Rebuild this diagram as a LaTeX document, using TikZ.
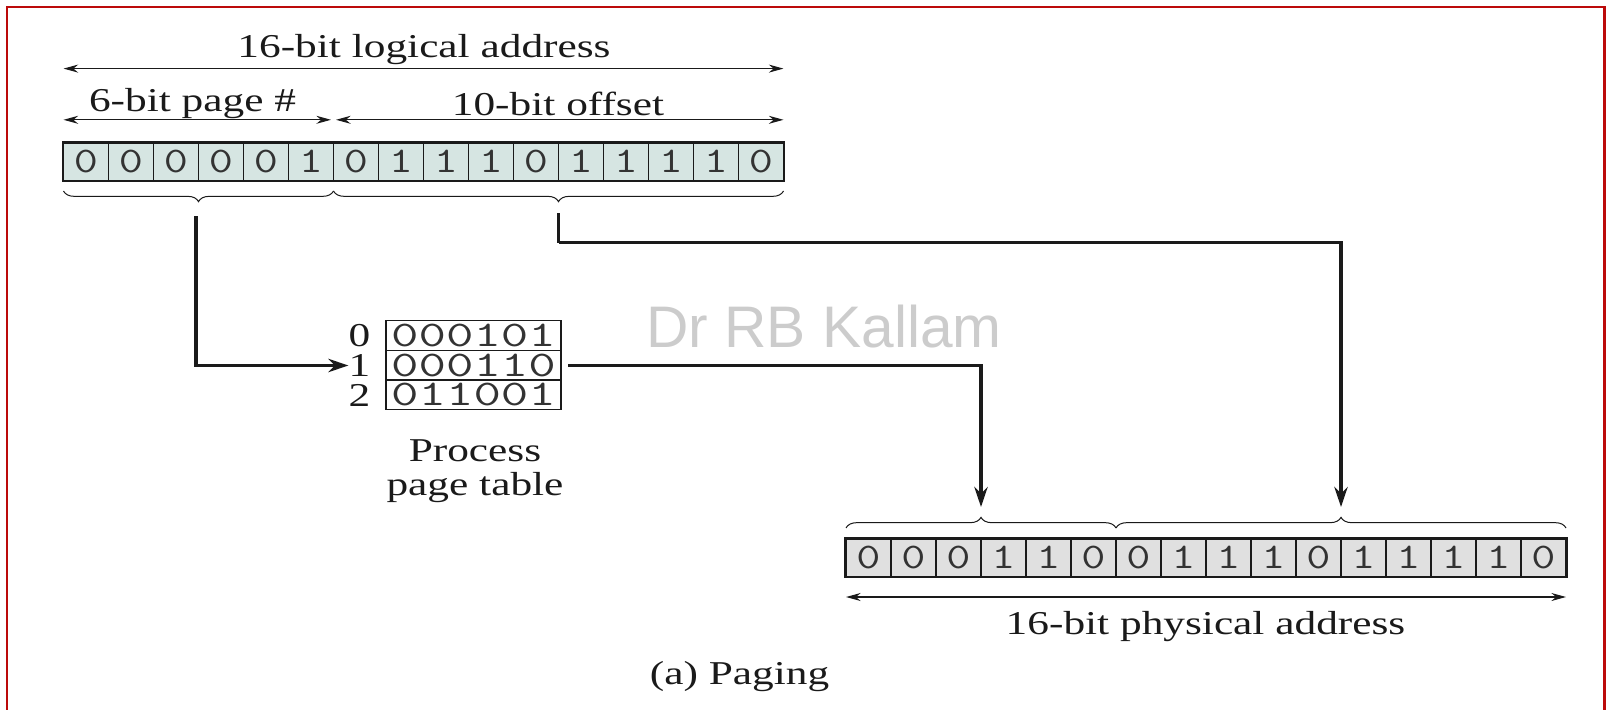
\documentclass[tikz,border=0pt]{standalone}
\usepackage{fontspec}
\setmainfont{Liberation Serif}
\newfontfamily\wmfont{Liberation Sans}
\usetikzlibrary{decorations.pathreplacing,arrows.meta}
\definecolor{frameRed}{HTML}{BC0A0A}
\definecolor{cellA}{HTML}{D6E5E2}
\definecolor{cellB}{HTML}{E0E0E0}
\definecolor{inkC}{HTML}{1A1A1A}
\newcommand{\wx}[1]{\scalebox{1.3}[1]{#1}}
\newcommand{\wm}[1]{\scalebox{1.3}[1]{#1}}
\newcommand{\wt}[1]{\scalebox{1.48}[1]{#1}}
\begin{document}
\begin{tikzpicture}[x=0.75pt,y=-0.75pt,
  lbl/.style={font=\fontsize{25}{28}\selectfont, inner sep=0pt, text=inkC},
  bitbox/.style={draw=inkC, line width=1pt, minimum width=33.75pt, minimum height=28pt, inner sep=0pt, font=\ttfamily\fontsize{27}{28}\selectfont, text=black!80},
  bitA/.style={bitbox, fill=cellA},
  bitB/.style={bitbox, fill=cellB},
  ptxt/.style={inner sep=0pt, font=\ttfamily\fontsize{27}{28}\selectfont, text=black!80},
  dimline/.style={draw=inkC, line width=0.9pt, {Stealth[length=11pt,width=6pt]}-{Stealth[length=11pt,width=6pt]}},
  bracedec/.style={draw=inkC, line width=0.75pt, decorate, decoration={brace, amplitude=8pt}},
  conn/.style={draw=inkC, line width=2.5pt, -{Stealth[length=15pt,width=10pt]}},
  connline/.style={draw=inkC, line width=2.5pt}
]
\useasboundingbox (0,0) rectangle (1606,710);
% frame
\draw[frameRed, line width=2pt] (7,710) -- (7,7) -- (1604.5,7) -- (1604.5,710);

% logical address register
\foreach \b [count=\i] in {0,0,0,0,0,1,0,1,1,1,0,1,1,1,1,0}
  \node[bitA] (a\i) at ({86+45*(\i-1)},161.5) {\wm{\b}};
\draw[inkC, line width=1.3pt] (a1.north west) rectangle (a16.south east);

% dimension lines (top)
\coordinate (dTL) at (63.5,68.6);
\coordinate (dTR) at (783.5,68.6);
\draw[dimline] (dTL) -- (dTR);
\node[lbl] (tLog) at (424,50) {\wx{16-bit logical address}};
\coordinate (dPL) at (63.5,119.8);
\coordinate (dPR) at (331,119.8);
\coordinate (dOL) at (336,119.8);
\coordinate (dOR) at (783.5,119.8);
\draw[dimline] (dPL) -- (dPR);
\draw[dimline] (dOL) -- (dOR);
\node[lbl] (tPage) at (192.5,104) {\wx{6-bit page \#}};
\node[lbl] (tOff) at (558,104) {\wx{10-bit offset}};

% braces under logical register
\draw[bracedec, decoration={mirror}] (63.5,191) -- (333.5,191);
\draw[bracedec, decoration={mirror}] (333.5,191) -- (783.5,191);
\coordinate (bt1) at (196,216);
\coordinate (bt2) at (558.5,213);

% page table
\draw[inkC, line width=1pt] (386,320.6) rectangle (561,409.7);
\draw[inkC, line width=1pt] (386,350.3) -- (561,350.3);
\draw[inkC, line width=1pt] (386,380) -- (561,380);
\coordinate (ptR) at (568,365.2);
\node[ptxt] (pt0) at (473.5,335.5) {\wt{000101}};
\node[ptxt] (pt1) at (473.5,365.2) {\wt{000110}};
\node[ptxt] (pt2) at (473.5,394.9) {\wt{011001}};
\node[lbl] (n0) at (359.5,336) {\wx{0}};
\node[lbl] (n1) at (359.5,365.5) {\wx{1}};
\node[lbl] (n2) at (359.5,395) {\wx{2}};
\node[lbl] (ptA) at (475,451) {\wx{Process}};
\node[lbl] (ptB) at (475,488) {\wx{page table}};

% watermark
\node[font=\wmfont\fontsize{44}{48}\selectfont, text=black!20, inner sep=0pt] (wm) at (824,327) {Dr RB Kallam};

% physical address register
\foreach \b [count=\i] in {0,0,0,1,1,0,0,1,1,1,0,1,1,1,1,0}
  \node[bitB] (p\i) at ({868.5+45*(\i-1)},557.5) {\wm{\b}};
\draw[inkC, line width=1.3pt] (p1.north west) rectangle (p16.south east);

% braces above physical register
\draw[bracedec] (846,528) -- (1116,528);
\draw[bracedec] (1116,528) -- (1566,528);
\coordinate (bb1) at (981,507);
\coordinate (bb2) at (1341,507);

% bottom dimension
\coordinate (dBL) at (846,597);
\coordinate (dBR) at (1566,597);
\draw[dimline] (dBL) -- (dBR);
\node[lbl] (tPhys) at (1205.5,627) {\wx{16-bit physical address}};
\node[lbl] (tCap) at (739.5,677) {\wx{(a) Paging}};

% connectors
\draw[conn] (bt1) |- (n1.west);
\coordinate (turn2) at (558.5,242.7);
\draw[connline] (bt2) -- (turn2);
\draw[conn] (turn2) -| (bb2);
\draw[conn] (ptR) -| (bb1);
\end{tikzpicture}
\end{document}
